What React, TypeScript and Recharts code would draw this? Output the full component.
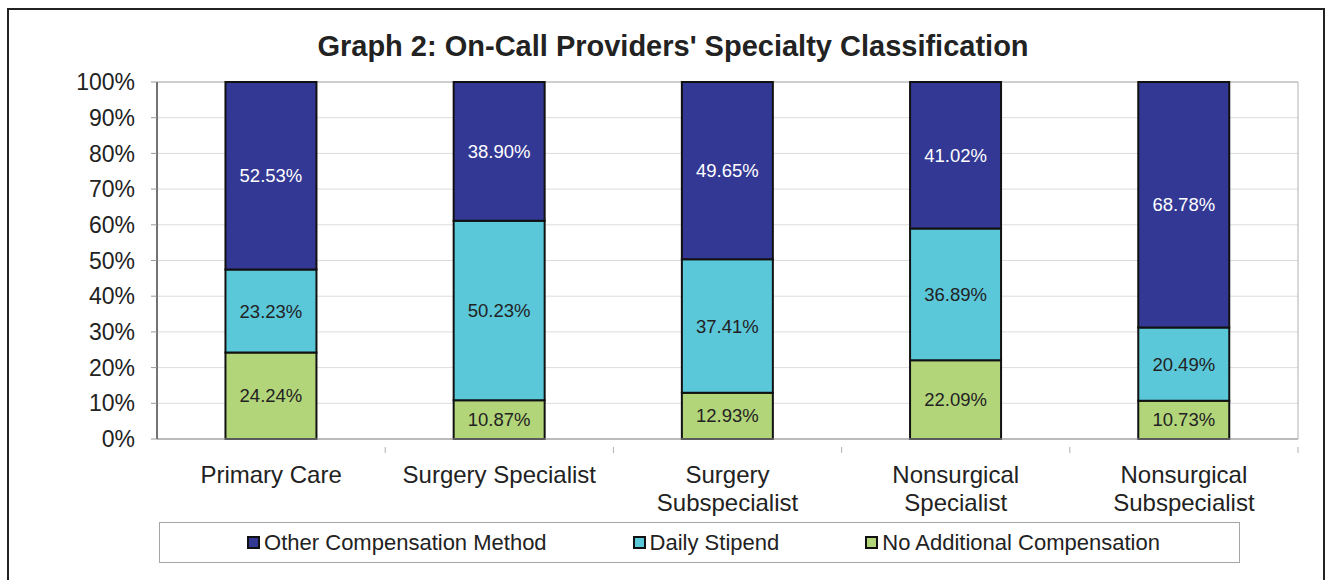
import { BarChart, Bar, XAxis, YAxis, CartesianGrid, LabelList, ReferenceArea } from 'recharts'

const categories = ['Primary Care', 'Surgery Specialist', 'Surgery\nSubspecialist', 'Nonsurgical\nSpecialist', 'Nonsurgical\nSubspecialist']
const otherMethod = [52.53, 38.9, 49.65, 41.02, 68.78]
const dailyStipend = [23.23, 50.23, 37.41, 36.89, 20.49]
const noAdditional = [24.24, 10.87, 12.93, 22.09, 10.73]
const yTicks = [0, 10, 20, 30, 40, 50, 60, 70, 80, 90, 100]

const SERIES = [
  { key: 'other', name: 'Other Compensation Method', color: '#333894', label: '#ffffff' },
  { key: 'daily', name: 'Daily Stipend', color: '#5bc8da', label: '#222222' },
  { key: 'none', name: 'No Additional Compensation', color: '#b3d57a', label: '#222222' },
]

const FONT = '"Liberation Sans", Arial, sans-serif'
const W = 1325
const H = 580
const X_H = 30
const M = { top: 82, right: 27, bottom: 141 - X_H, left: 97 }
const Y_W = 60
const BAND = (W - M.left - Y_W - M.right) / categories.length

const data = categories.map((c, i) => ({
  name: c,
  other: otherMethod[i],
  daily: dailyStipend[i],
  none: noAdditional[i],
}))

function CategoryTick({ x, y, payload }: any) {
  const lines = String(payload.value).split('\n')
  return (
    <g>
      <line x1={x + BAND / 2} x2={x + BAND / 2} y1={y} y2={y + 6} stroke="#b0b0b0" />
      {lines.map((l, i) => (
        <text key={i} x={x} y={y + 36 + i * 28} textAnchor="middle" fill="#222" fontSize={24} fontFamily={FONT}>
          {l}
        </text>
      ))}
    </g>
  )
}

// legend box below the plot, Excel style
function LegendBox() {
  return (
    <div style={{
      position: 'absolute', left: 159, top: 522, width: 1081, height: 41, boxSizing: 'border-box',
      border: '1px solid #a6a6a6', display: 'flex', alignItems: 'center', justifyContent: 'center', gap: 86,
      paddingLeft: 8, fontFamily: FONT, fontSize: 22, color: '#222',
    }}>
      {SERIES.map(s => (
        <div key={s.key} style={{ display: 'flex', alignItems: 'center' }}>
          <span style={{ width: 9, height: 9, background: s.color, border: '2px solid #111', marginRight: 4 }} />
          <span>{s.name}</span>
        </div>
      ))}
    </div>
  )
}

export default function App() {
  return (
    <div style={{ position: 'absolute', left: 0, top: 0, width: W, height: H, background: '#fff', overflow: 'hidden' }}>
      <div style={{ position: 'absolute', left: 7, top: 8, width: 1314, height: 620, border: '2px solid #222' }} />
      <div style={{
        position: 'absolute', left: 0, top: 29, width: 1346, textAlign: 'center',
        fontFamily: FONT, fontWeight: 'bold', fontSize: 29, color: '#222', lineHeight: '34px',
      }}>
        Graph 2: On-Call Providers' Specialty Classification
      </div>
      <div style={{ position: 'absolute', left: 0, top: 0 }}>
        <BarChart width={W} height={H} data={data} margin={M} barCategoryGap="30%">
          <CartesianGrid vertical={false} stroke="#dcdcdc" />
          <ReferenceArea y1={0} y2={100} fill="none" stroke="#b0b0b0" strokeWidth={1} />
          <XAxis
            dataKey="name"
            height={X_H}
            axisLine={{ stroke: '#a6a6a6' }}
            tickLine={false}
            interval={0}
            tick={<CategoryTick />}
          />
          <YAxis
            width={Y_W}
            domain={[0, 100]}
            ticks={yTicks}
            interval={0}
            tickFormatter={v => `${v}%`}
            axisLine={{ stroke: '#111' }}
            tickLine={{ stroke: '#999' }}
            tickSize={6}
            tickMargin={16}
            tick={{ fill: '#222', fontSize: 23, fontFamily: FONT }}
          />
          {[...SERIES].reverse().map(s => (
            <Bar
              key={s.key}
              dataKey={s.key}
              name={s.name}
              stackId="a"
              fill={s.color}
              stroke="#111"
              strokeWidth={2}
              isAnimationActive={false}
            >
              <LabelList
                dataKey={s.key}
                position="center"
                formatter={(v: any) => `${Number(v).toFixed(2)}%`}
                fill={s.label}
                fontSize={18.5}
                fontFamily={FONT}
              />
            </Bar>
          ))}
        </BarChart>
      </div>
      <LegendBox />
    </div>
  )
}
